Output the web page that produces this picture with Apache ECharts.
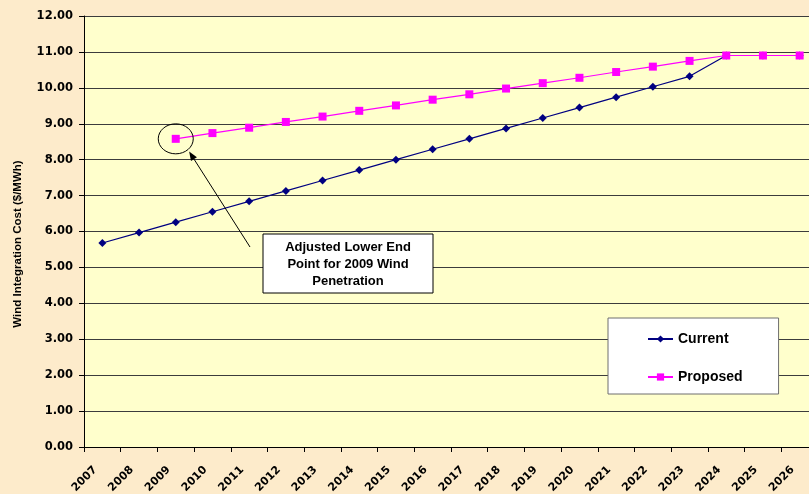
<!DOCTYPE html>
<html>
<head>
<meta charset="utf-8">
<script src="https://cdn.jsdelivr.net/npm/echarts@6/dist/echarts.min.js"></script>
<style>
  html, body { margin: 0; padding: 0; background: #FDEBCB; overflow: hidden; }
  #chart { width: 818px; height: 494px; }
</style>
</head>
<body>
<div id="chart"></div>
<script>
// Wind integration cost by year, current vs proposed method ($/MWh)
const years = ['2007', '2008', '2009', '2010', '2011', '2012', '2013', '2014', '2015', '2016',
               '2017', '2018', '2019', '2020', '2021', '2022', '2023', '2024', '2025', '2026'];
const currentCost = [5.68, 5.97, 6.26, 6.55, 6.84, 7.13, 7.42, 7.71, 8.00, 8.29,
                     8.58, 8.87, 9.16, 9.45, 9.74, 10.03, 10.32, 10.90, 10.90, 10.90];
const proposedCost = [null, null, 8.58, 8.74, 8.89, 9.05, 9.20, 9.36, 9.51, 9.67,
                      9.82, 9.98, 10.13, 10.28, 10.44, 10.59, 10.75, 10.90, 10.90, 10.90];
const yTicks = { min: 0, max: 12, interval: 1 };
const seriesNames = ['Current', 'Proposed'];
const noteLines = ['Adjusted Lower End', 'Point for 2009 Wind', 'Penetration'];
const noteYear = '2009';

const chart = echarts.init(document.getElementById('chart'), null, { renderer: 'canvas' });
const boldFont = 'Liberation Sans, Arial, sans-serif';
const tickFont = 'DejaVu Sans, Verdana, sans-serif';

chart.setOption({
  backgroundColor: '#FDEBCB',
  animation: false,
  grid: {
    left: 84, top: 16, right: 0, bottom: 47,
    outerBoundsMode: 'none',
    containLabel: false,
    show: true, backgroundColor: '#FFFFCC', borderWidth: 0
  },
  legend: {
    left: 608, top: 318,
    orient: 'vertical',
    padding: [14, 36, 10, 39],
    itemGap: 24,
    itemWidth: 25, itemHeight: 9,
    backgroundColor: '#FFFFFF',
    borderColor: '#6E6E6E', borderWidth: 1,
    textStyle: { fontFamily: boldFont, fontWeight: 'bold', fontSize: 14, color: '#000' },
    data: seriesNames
  },
  xAxis: {
    type: 'category',
    data: years,
    boundaryGap: true,
    axisLine: { lineStyle: { color: '#000', width: 1 } },
    axisTick: { show: true, interval: 0, length: 5, lineStyle: { color: '#000' } },
    axisLabel: {
      interval: 0, rotate: 45, margin: 14, padding: [0, 10, 0, 0],
      fontFamily: tickFont, fontWeight: 'bold', fontSize: 11, color: '#000'
    },
    splitLine: { show: false }
  },
  yAxis: {
    type: 'value',
    min: yTicks.min, max: yTicks.max, interval: yTicks.interval,
    axisLine: { show: true, lineStyle: { color: '#000', width: 1 } },
    axisTick: { show: true, length: 5, lineStyle: { color: '#000' } },
    axisLabel: {
      margin: 11,
      fontFamily: tickFont, fontWeight: 'bold', fontSize: 11.5, color: '#000',
      formatter: v => v.toFixed(2)
    },
    splitLine: { show: true, lineStyle: { color: '#3C3C3C', width: 1 } }
  },
  series: [
    {
      name: seriesNames[0],
      type: 'line',
      data: currentCost,
      symbol: 'diamond', symbolSize: 8,
      lineStyle: { color: '#000080', width: 1.2 },
      itemStyle: { color: '#000080' },
      z: 2
    },
    {
      name: seriesNames[1],
      type: 'line',
      data: proposedCost,
      symbol: 'rect', symbolSize: 8,
      lineStyle: { color: '#FF00FF', width: 1.2 },
      itemStyle: { color: '#FF00FF' },
      z: 3
    }
  ]
});

// Annotation: ellipse around the adjusted 2009 point, an arrow and a note box
const idx = years.indexOf(noteYear);
const pt = chart.convertToPixel({ gridIndex: 0 }, [idx, proposedCost[idx]]);
const rx = 17.5, ry = 15;
const ang = Math.PI / 4;
const arrowEnd = [pt[0] + rx * Math.cos(ang) + 1, pt[1] + ry * Math.sin(ang) + 2];
const boxX = 263, boxY = 234, boxW = 170, boxH = 59;
const arrowStart = [boxX - 13, boxY + 13];
const dx = arrowEnd[0] - arrowStart[0], dy = arrowEnd[1] - arrowStart[1];
const len = Math.hypot(dx, dy), ux = dx / len, uy = dy / len;
const headLen = 9, headW = 3.5;
const base = [arrowEnd[0] - ux * headLen, arrowEnd[1] - uy * headLen];
const head = [
  arrowEnd,
  [base[0] - uy * headW, base[1] + ux * headW],
  [base[0] + uy * headW, base[1] - ux * headW]
];

chart.setOption({
  graphic: [
    {
      type: 'ellipse',
      shape: { cx: pt[0], cy: pt[1], rx: rx, ry: ry },
      style: { fill: 'none', stroke: '#000', lineWidth: 1 },
      z: 10
    },
    {
      type: 'line',
      shape: { x1: arrowStart[0], y1: arrowStart[1], x2: base[0], y2: base[1] },
      style: { stroke: '#000', lineWidth: 1 },
      z: 10
    },
    {
      type: 'polygon',
      shape: { points: head },
      style: { fill: '#000' },
      z: 10
    },
    {
      type: 'rect',
      shape: { x: boxX, y: boxY, width: boxW, height: boxH },
      style: { fill: '#FFFFFF', stroke: '#000', lineWidth: 1 },
      z: 10
    },
    {
      type: 'text',
      x: boxX + boxW / 2, y: boxY + boxH / 2 + 1,
      style: {
        text: noteLines.join('\n'),
        align: 'center', verticalAlign: 'middle',
        font: 'bold 13px ' + boldFont,
        lineHeight: 17,
        fill: '#000'
      },
      z: 11
    },
    {
      type: 'text',
      x: 18, y: 244,
      rotation: Math.PI / 2,
      style: {
        text: 'Wind Integration Cost ($/MWh)',
        align: 'center', verticalAlign: 'middle',
        font: 'bold 11.5px ' + boldFont,
        fill: '#000'
      },
      z: 10
    }
  ]
});
</script>
</body>
</html>
